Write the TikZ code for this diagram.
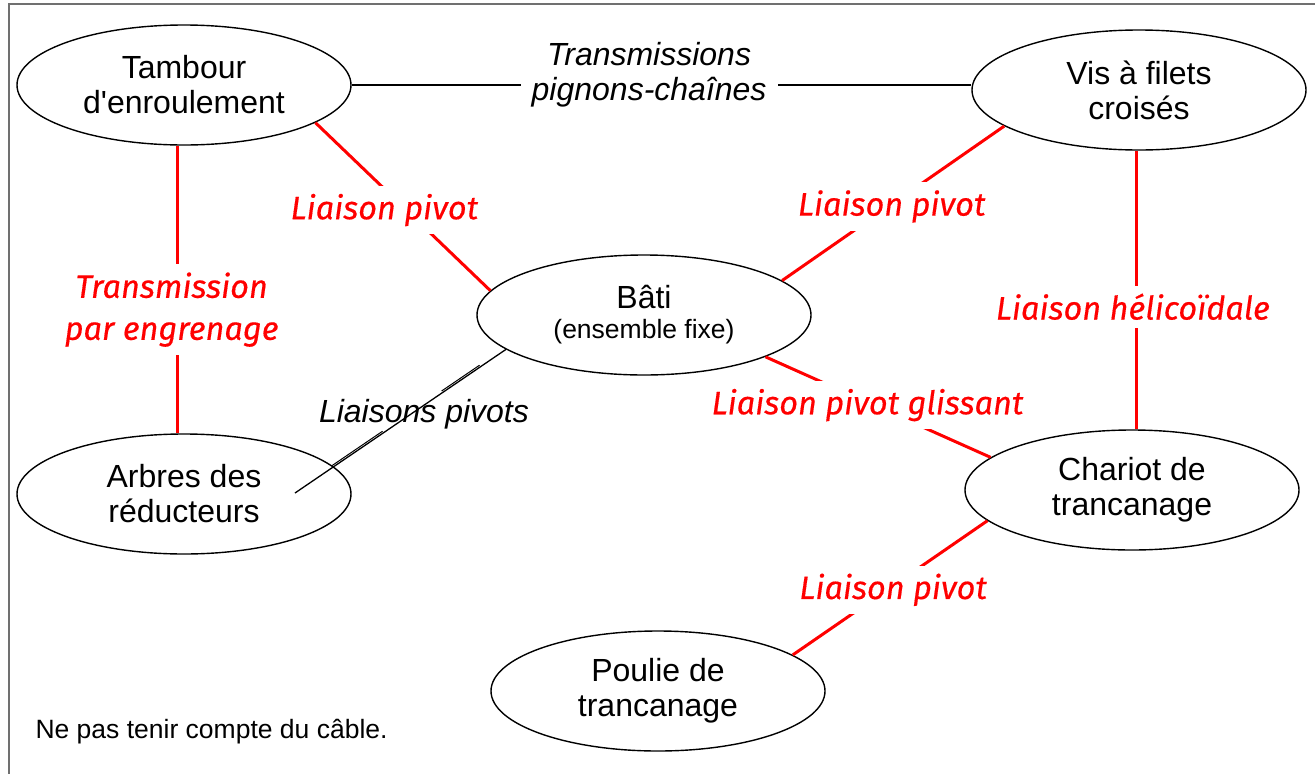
\documentclass[tikz,border=0pt]{standalone}
\usepackage{fontspec}
\setmainfont{Liberation Sans}
\newfontfamily\liaisonfont{Fira Sans}[ItalicFeatures={FakeBold=0.4}]
\usetikzlibrary{shapes.geometric, calc}
\definecolor{liaisonred}{RGB}{255,0,0}
\definecolor{framegray}{RGB}{112,112,112}

\begin{document}
\begin{tikzpicture}[x=1pt, y=-1pt,
    piece/.style={ellipse, draw, line width=1.4pt, fill=white, minimum width=334pt,
        minimum height=120pt, inner sep=0pt, align=center, font=\fontsize{32}{35}\selectfont},
    liaison/.style={draw=liaisonred, line width=3pt},
    lbl/.style={fill=white, text=liaisonred, inner xsep=4pt, inner ysep=8pt, align=center,
        font=\liaisonfont\itshape\fontsize{32.5}{42}\selectfont},
    blbl/.style={align=center, font=\itshape\fontsize{32}{35}\selectfont}]
    \clip (0,0) rectangle (1315,774);
    \draw[framegray, line width=1.5pt] (9,4) rectangle (1340,800);

    \node[piece] (tambour) at (184,85) {Tambour\\d\textquotesingle enroulement};
    \node[piece] (vis) at (1139,90) {Vis à filets\\croisés};
    \node[piece] (bati) at (644,315) {Bâti\\[-5pt]{\fontsize{26.5}{30}\selectfont (ensemble fixe)}};
    \node[piece] (arbres) at (184,494) {Arbres des\\réducteurs};
    \node[piece] (chariot) at (1132,490) {Chariot de\\trancanage};
    \node[piece] (poulie) at (658,691) {Poulie de\\trancanage};
    \coordinate (arbin) at (295,493);

    \draw[liaison] (tambour.-96) edge node[lbl, pos=.57, xshift=-6pt] {Transmission\\par engrenage} (arbres.96)
          (tambour.-16) edge node[lbl, pos=.52, xshift=-22pt] {Liaison pivot} (bati.171)
          (vis.195) edge node[lbl, pos=.52, xshift=3pt] {Liaison pivot} (bati.14)
          (vis.-92) edge node[lbl, pos=.56, xshift=-4pt] {Liaison hélicoïdale} (vis.-92 |- chariot.north)
          (bati.-19) edge node[lbl, pos=.48, xshift=-6pt] {Liaison pivot glissant} (chariot.167)
          (chariot.192) edge node[lbl, pos=.515, xshift=6pt] {Liaison pivot} (poulie.15);

    \draw[line width=1.3pt] (tambour.east) -- node[blbl, fill=white, pos=.48, yshift=10.5pt, inner xsep=11pt]
          {Transmissions\\pignons-chaînes} (tambour.east -| vis.west);

    \draw[line width=1.3pt] (bati.194) -- (arbin);
    \draw[line width=1pt, transform canvas={shift={(-1pt,1.5pt)}}]
          ($(bati.194)!.12!(arbin)$) -- ($(bati.194)!.3!(arbin)$)
          ($(bati.194)!.58!(arbin)$) -- ($(bati.194)!.82!(arbin)$);
    \node[blbl, anchor=base] (pivots) at (424,422) {Liaisons pivots};

    \node[anchor=base west, font=\fontsize{26.5}{30}\selectfont] (note) at (32,738) {Ne pas tenir compte du câble.};
\end{tikzpicture}
\end{document}
